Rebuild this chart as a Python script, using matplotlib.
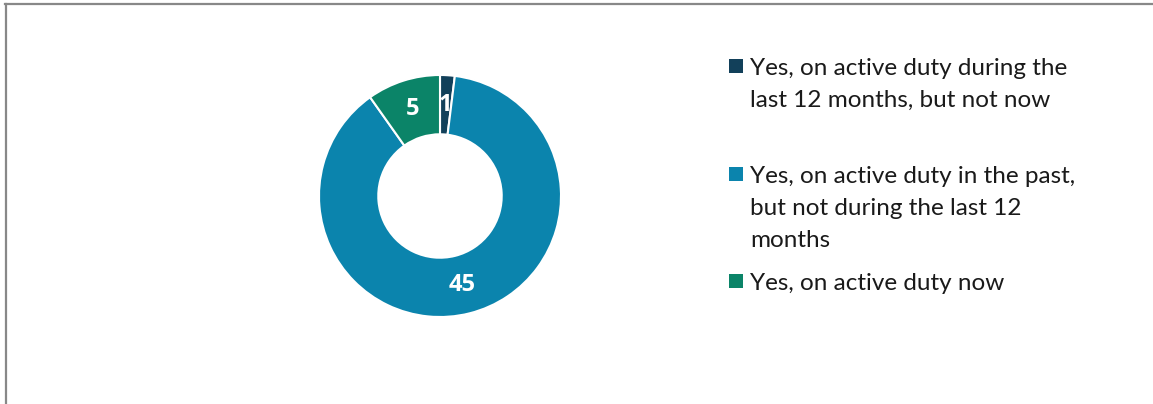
import matplotlib as mpl
mpl.use('Agg')
import matplotlib.pyplot as plt
from matplotlib.patches import Rectangle
from matplotlib.lines import Line2D
import numpy as np

# data
labels = [
    'Yes, on active duty during the\nlast 12 months, but not now',
    'Yes, on active duty in the past,\nbut not during the last 12\nmonths',
    'Yes, on active duty now',
]
values = [1, 45, 5]
colors = ['#12405a', '#0b84ad', '#0b8468']

W, H = 1153, 404
fig = plt.figure(figsize=(W / 100, H / 100), dpi=100)
plt.rcParams['font.family'] = ['Lato', 'DejaVu Sans']

# donut, centre (440, 196) px, outer radius 121 px
cx, cy, r = 440, 196, 121
ax = fig.add_axes([(cx - r) / W, (H - cy - r) / H, 2 * r / W, 2 * r / H])
wedges, _ = ax.pie(values, colors=colors, startangle=90, counterclock=False,
                   radius=1, wedgeprops=dict(width=0.49, edgecolor='white',
                                             linewidth=1.5))
ax.set_xlim(-1, 1)
ax.set_ylim(-1, 1)
ax.set_aspect('auto')
ax.axis('off')

# value labels in the middle of the ring
total = sum(values)
start = 90.0
for v in values:
    mid = np.deg2rad(start - v / total * 360 / 2)
    start -= v / total * 360
    ax.text(0.755 * np.cos(mid), 0.755 * np.sin(mid), str(v), color='white',
            fontsize=17, fontweight='bold', family=['Open Sans', 'DejaVu Sans'],
            ha='center', va='center')

# legend, placed by hand
entries_y = [66, 174, 281]
for lab, col, y in zip(labels, colors, entries_y):
    fig.patches.append(Rectangle((729 / W, (H - y - 7) / H), 14 / W, 14 / H,
                                 transform=fig.transFigure, facecolor=col,
                                 edgecolor='none'))
    fig.text(750 / W, (H - y + 8) / H, lab, fontsize=17.5, color='#1a1a1a',
             ha='left', va='top', linespacing=1.66)

# frame lines (top and left)
fig.lines.append(Line2D([5 / W, 1], [1 - 4 / H, 1 - 4 / H],
                        transform=fig.transFigure, color='#888888', lw=1.6))
fig.lines.append(Line2D([6 / W, 6 / W], [0, 1 - 4 / H],
                        transform=fig.transFigure, color='#888888', lw=1.6))

fig.savefig('out.png', dpi=100)
